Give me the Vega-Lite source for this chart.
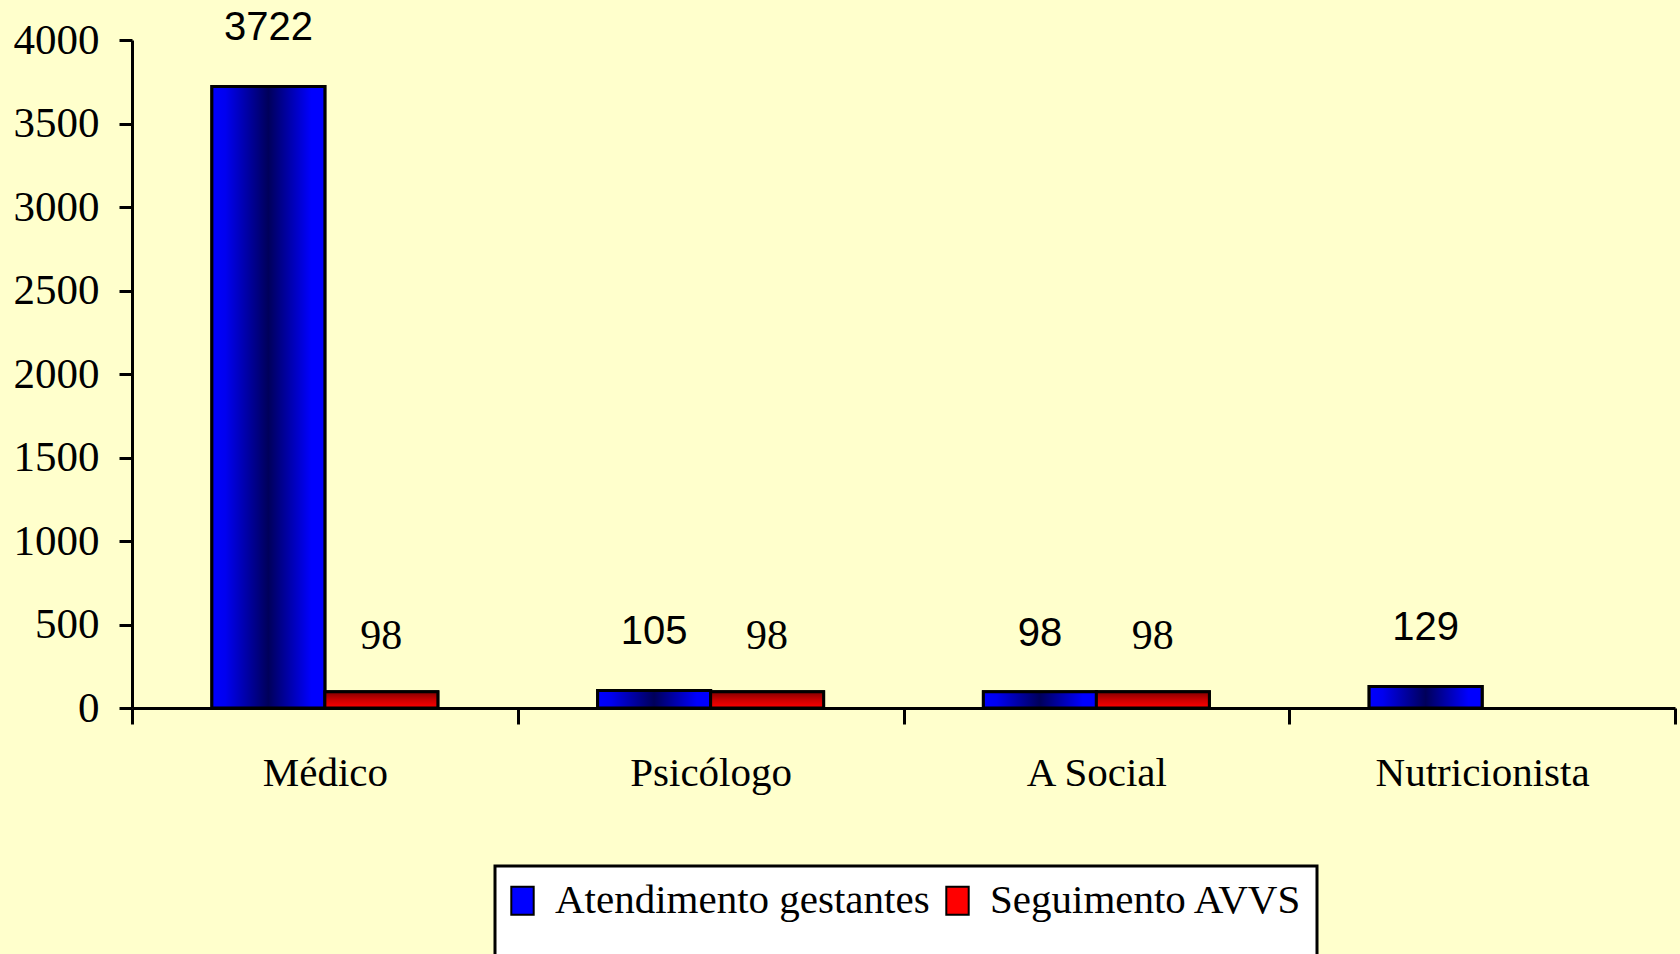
{
  "$schema": "https://vega.github.io/schema/vega-lite/v6.json",
  "width": 1543,
  "height": 668,
  "autosize": {"type": "none"},
  "padding": {"left": 132, "top": 40, "right": 5, "bottom": 246},
  "background": "#FFFFCC",
  "config": {"view": {"stroke": null}, "font": "Liberation Serif"},
  "data": {
    "values": [
      {"cat": "Médico", "serie": "Atendimento gestantes", "value": 3722},
      {"cat": "Médico", "serie": "Seguimento AVVS", "value": 98},
      {"cat": "Psicólogo", "serie": "Atendimento gestantes", "value": 105},
      {"cat": "Psicólogo", "serie": "Seguimento AVVS", "value": 98},
      {"cat": "A Social", "serie": "Atendimento gestantes", "value": 98},
      {"cat": "A Social", "serie": "Seguimento AVVS", "value": 98},
      {"cat": "Nutricionista", "serie": "Atendimento gestantes", "value": 129}
    ]
  },
  "encoding": {
    "x": {
      "field": "cat",
      "type": "nominal",
      "sort": ["Médico", "Psicólogo", "A Social", "Nutricionista"],
      "scale": {"paddingInner": 0, "paddingOuter": 0},
      "axis": {
        "title": null,
        "labelAngle": 0,
        "grid": false,
        "domainColor": "black",
        "domainWidth": 3,
        "tickBand": "extent",
        "tickColor": "black",
        "tickWidth": 3,
        "tickSize": 16,
        "labelFont": "Liberation Serif",
        "labelFontSize": 41,
        "labelColor": "black",
        "labelPadding": 29,
        "labelLimit": 600
      }
    },
    "xOffset": {
      "field": "serie",
      "type": "nominal",
      "scale": {
        "domain": ["Atendimento gestantes", "Seguimento AVVS"],
        "paddingInner": 0,
        "paddingOuter": 0.707
      }
    },
    "y": {
      "field": "value",
      "type": "quantitative",
      "scale": {"domain": [0, 4000], "nice": false},
      "axis": {
        "title": null,
        "grid": false,
        "format": "d",
        "values": [0, 500, 1000, 1500, 2000, 2500, 3000, 3500, 4000],
        "domainColor": "black",
        "domainWidth": 3,
        "tickColor": "black",
        "tickWidth": 3,
        "tickSize": 13,
        "labelFont": "Liberation Serif",
        "labelFontSize": 43,
        "labelColor": "black",
        "labelPadding": 20
      }
    }
  },
  "layer": [
    {
      "mark": {"type": "bar", "stroke": "black", "strokeWidth": 3},
      "encoding": {
        "color": {
          "field": "serie",
          "type": "nominal",
          "scale": {
            "domain": ["Atendimento gestantes", "Seguimento AVVS"],
            "range": ["#0000ff", "#ff0000"]
          },
          "legend": {
            "orient": "none",
            "legendX": 363,
            "legendY": 826,
            "direction": "horizontal",
            "title": " ",
            "titleOrient": "bottom",
            "titleFontSize": 34,
            "fillColor": "white",
            "strokeColor": "black",
            "padding": 14,
            "symbolType": "M-0.8,-1H0.8V1H-0.8Z",
            "symbolSize": 784,
            "symbolOffset": -7,
            "symbolStrokeColor": "black",
            "symbolStrokeWidth": 2,
            "symbolOpacity": 1,
            "labelFont": "Liberation Serif",
            "labelFontSize": 41,
            "labelColor": "black",
            "labelOffset": 12,
            "columnPadding": 12,
            "labelLimit": 600,
            "encode": {"legend": {"update": {"strokeWidth": {"value": 3}}}}
          }
        }
      }
    },
    {
      "transform": [{"filter": "datum.serie === 'Atendimento gestantes'"}],
      "mark": {
        "type": "bar",
        "stroke": "black",
        "strokeWidth": 3,
        "fill": {
          "gradient": "linear",
          "x1": 0, "y1": 0, "x2": 1, "y2": 0,
          "stops": [
            {"offset": 0, "color": "#0000ff"},
            {"offset": 0.12, "color": "#0000f0"},
            {"offset": 0.5, "color": "#00005a"},
            {"offset": 0.88, "color": "#0000ff"},
            {"offset": 1, "color": "#0000ff"}
          ]
        }
      }
    },
    {
      "transform": [{"filter": "datum.serie === 'Seguimento AVVS'"}],
      "mark": {
        "type": "bar",
        "stroke": "black",
        "strokeWidth": 3,
        "fill": {
          "gradient": "linear",
          "x1": 0, "y1": 0, "x2": 0, "y2": 1,
          "stops": [
            {"offset": 0, "color": "#800000"},
            {"offset": 0.5, "color": "#cc0000"},
            {"offset": 1, "color": "#ff0000"}
          ]
        }
      }
    },
    {
      "transform": [{"filter": "datum.serie === 'Atendimento gestantes'"}],
      "mark": {
        "type": "text",
        "font": "Liberation Sans",
        "fontSize": 40,
        "color": "black",
        "baseline": "middle",
        "dy": -58
      },
      "encoding": {"text": {"field": "value", "type": "quantitative"}}
    },
    {
      "transform": [{"filter": "datum.serie === 'Seguimento AVVS'"}],
      "mark": {
        "type": "text",
        "font": "Liberation Serif",
        "fontSize": 42,
        "color": "black",
        "baseline": "middle",
        "dy": -56
      },
      "encoding": {"text": {"field": "value", "type": "quantitative"}}
    }
  ]
}
